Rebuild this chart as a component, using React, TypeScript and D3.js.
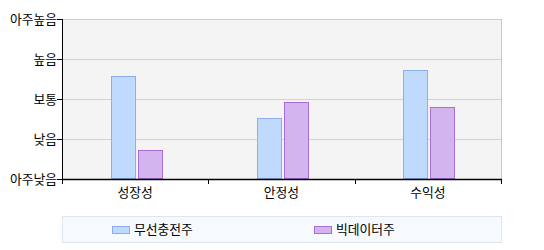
import React from "react";
import * as d3 from "d3";

const categories = ["성장성", "안정성", "수익성"];
const seriesNames = ["무선충전주", "빅데이터주"];
const seriesA = [2.58, 1.53, 2.73];
const seriesB = [0.73, 1.93, 1.8];
const levelLabels = ["아주낮음", "낮음", "보통", "높음", "아주높음"];

const fills = ["#c0dafe", "#d4b4ee"];
const strokes = ["#8eacee", "#a96ed8"];

export default function App() {
  const W = 544, H = 250;
  const left = 62, right = 501, top = 19, bottom = 179;
  const x = d3.scaleBand<string>().domain(categories).range([left, right]).padding(0);
  const y = d3.scaleLinear().domain([0, 4]).range([bottom, top]);
  const font = "'Noto Sans CJK KR', 'Noto Sans', sans-serif";
  const fs = 12.8;
  const series = [seriesA, seriesB];
  const barW = 24;
  const offsets = [-24.5, 2.5];

  return (
    <svg width={W} height={H} style={{ position: "absolute", left: 0, top: 0 }}>
      <rect x={left} y={top} width={right - left} height={bottom - top} fill="#f4f4f4" />
      {levelLabels.map((l, i) => (
        <g key={l}>
          {i > 0 && (
            <line x1={left} x2={right} y1={y(i) + 0.5} y2={y(i) + 0.5} stroke={i === 4 ? "#cccccc" : "#d2d2d2"} />
          )}
          <line x1={left - 5} x2={left} y1={y(i) + 0.5} y2={y(i) + 0.5} stroke="#000" />
          <text x={57} y={y(i) + 0.5} dy="0.35em" textAnchor="end" fontSize={fs} fontFamily={font} fill="#000">
            {l}
          </text>
        </g>
      ))}
      <line x1={right + 0.5} x2={right + 0.5} y1={top} y2={bottom} stroke="#c8c8c8" />
      {categories.map((c, ci) =>
        series.map((s, si) => {
          const cx = x(c)! + x.bandwidth() / 2;
          const bx = Math.round(cx + offsets[si]);
          const by = y(s[ci]);
          return (
            <rect
              key={c + si}
              x={bx + 0.5}
              y={Math.round(by) + 0.5}
              width={barW}
              height={bottom - 1 - Math.round(by)}
              fill={fills[si]}
              stroke={strokes[si]}
            />
          );
        })
      )}
      <line x1={left + 0.5} x2={left + 0.5} y1={top} y2={bottom + 1} stroke="#000" />
      <line x1={left} x2={right + 1} y1={bottom + 0.5} y2={bottom + 0.5} stroke="#000" strokeWidth={1.3} />
      {[0, 1, 2, 3].map((i) => {
        const tx = Math.round(left + i * x.bandwidth()) + 0.5;
        return <line key={i} x1={tx} x2={tx} y1={bottom} y2={bottom + 5} stroke="#000" />;
      })}
      {categories.map((c) => (
        <text key={c} x={x(c)! + x.bandwidth() / 2} y={193} dy="0.35em" textAnchor="middle" fontSize={fs} fontFamily={font} fill="#000">
          {c}
        </text>
      ))}
      <rect x={62.5} y={216.5} width={439} height={26} fill="#f6f9fe" stroke="#dce6f0" />
      {seriesNames.map((n, i) => {
        const lx = i === 0 ? 112.5 : 314.5;
        return (
          <g key={n}>
            <rect x={lx} y={226.5} width={17} height={7} fill={fills[i]} stroke={strokes[i]} />
            <text x={lx + 21.5} y={230} dy="0.35em" fontSize={fs} fontFamily={font} fill="#000">
              {n}
            </text>
          </g>
        );
      })}
    </svg>
  );
}
